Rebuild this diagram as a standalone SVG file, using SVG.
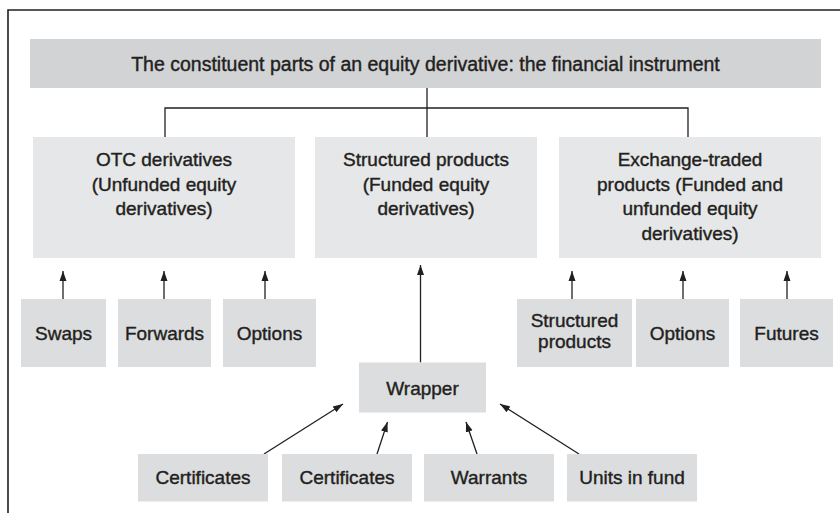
<svg xmlns="http://www.w3.org/2000/svg" width="840" height="513" viewBox="0 0 840 513">
<style>
text{font-family:"Liberation Sans",Arial,sans-serif;font-size:19px;fill:#231f20;text-anchor:middle;stroke:#231f20;stroke-width:0.4}
.title{fill:#d2d3d5}
.big{fill:#e6e7e8}
.small{fill:#dcdddf}
.ln{fill:none;stroke:#231f20;stroke-width:1.3}
</style>
<defs>
<marker id="ah" viewBox="0 0 10 10" refX="10" refY="5" markerWidth="10" markerHeight="10" markerUnits="userSpaceOnUse" orient="auto">
<path d="M0,1.5 L10,5 L0,8.5 Z" fill="#231f20"/>
</marker>
</defs>
<rect width="840" height="513" fill="#fff"/>
<path d="M8,513 V10 H840" fill="none" stroke="#231f20" stroke-width="1.6"/>

<g id="connectors">
<path class="ln" d="M427,88 V108 M165,137 V108 H688 V137 M427,108 V137"/>
<path class="ln" marker-end="url(#ah)" d="M63,299 V271"/>
<path class="ln" marker-end="url(#ah)" d="M164,299 V271"/>
<path class="ln" marker-end="url(#ah)" d="M265,299 V271"/>
<path class="ln" marker-end="url(#ah)" d="M572,299 V271"/>
<path class="ln" marker-end="url(#ah)" d="M683,299 V271"/>
<path class="ln" marker-end="url(#ah)" d="M787,299 V271"/>
<path class="ln" marker-end="url(#ah)" d="M420.5,362.5 V265"/>
<path class="ln" marker-end="url(#ah)" d="M264,454 L343,404"/>
<path class="ln" marker-end="url(#ah)" d="M377,454 L387.5,422"/>
<path class="ln" marker-end="url(#ah)" d="M477,454 L466,422"/>
<path class="ln" marker-end="url(#ah)" d="M579,454 L500,404"/>
</g>

<g id="title">
<rect class="title" x="30" y="39" width="791" height="49"/>
<text x="425.5" y="70.5" style="font-size:19.5px">The constituent parts of an equity derivative: the financial instrument</text>
</g>

<g id="otc">
<rect class="big" x="33" y="137" width="262" height="121"/>
<text x="164" y="166">OTC derivatives</text>
<text x="164" y="190.5">(Unfunded equity</text>
<text x="164" y="215">derivatives)</text>
</g>

<g id="structured">
<rect class="big" x="315" y="137" width="222" height="121"/>
<text x="426" y="166">Structured products</text>
<text x="426" y="190.5">(Funded equity</text>
<text x="426" y="215">derivatives)</text>
</g>

<g id="exchange">
<rect class="big" x="559" y="137" width="262" height="121"/>
<text x="690" y="166">Exchange-traded</text>
<text x="690" y="190.5">products (Funded and</text>
<text x="690" y="215">unfunded equity</text>
<text x="690" y="239.5">derivatives)</text>
</g>

<g id="swaps">
<rect class="small" x="21" y="299" width="85" height="68"/>
<text x="63.5" y="340">Swaps</text>
</g>
<g id="forwards">
<rect class="small" x="118" y="299" width="93" height="68"/>
<text x="164.5" y="340">Forwards</text>
</g>
<g id="options1">
<rect class="small" x="223" y="299" width="93" height="68"/>
<text x="269.5" y="340">Options</text>
</g>
<g id="structured-products">
<rect class="small" x="517" y="299" width="115" height="68"/>
<text x="574.5" y="327">Structured</text>
<text x="574.5" y="347.5">products</text>
</g>
<g id="options2">
<rect class="small" x="636" y="299" width="93" height="68"/>
<text x="682.5" y="340">Options</text>
</g>
<g id="futures">
<rect class="small" x="740" y="299" width="93" height="68"/>
<text x="786.5" y="340">Futures</text>
</g>

<g id="wrapper">
<rect class="small" x="359" y="362.5" width="127" height="50"/>
<text x="422.5" y="394.5">Wrapper</text>
</g>

<g id="certificates1">
<rect class="small" x="138" y="454" width="130" height="47.5"/>
<text x="203" y="484">Certificates</text>
</g>
<g id="certificates2">
<rect class="small" x="282" y="454" width="130" height="47.5"/>
<text x="347" y="484">Certificates</text>
</g>
<g id="warrants">
<rect class="small" x="424" y="454" width="130" height="47.5"/>
<text x="489" y="484">Warrants</text>
</g>
<g id="units">
<rect class="small" x="567" y="454" width="130" height="47.5"/>
<text x="632" y="484">Units in fund</text>
</g>
</svg>
